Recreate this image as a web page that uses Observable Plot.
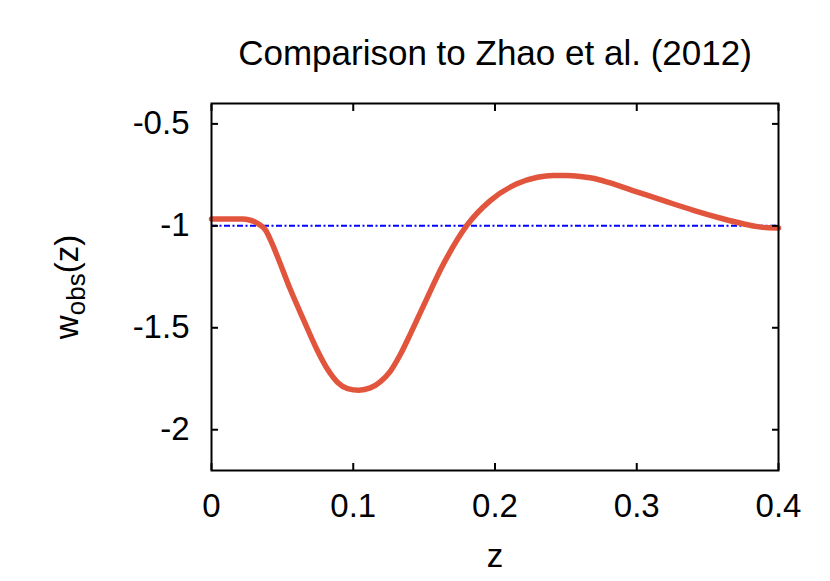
<!DOCTYPE html>
<html>
<head>
<meta charset="utf-8">
<script src="https://cdn.jsdelivr.net/npm/d3@7"></script>
<script src="https://cdn.jsdelivr.net/npm/@observablehq/plot@0.6"></script>
<style>
  html, body { margin: 0; padding: 0; background: white; }
</style>
</head>
<body>
<div id="chart"></div>
<script>
const title = "Comparison to Zhao et al. (2012)";
const xLabel = "z";
const yLabelMain = "w";
const yLabelSub = "obs";
const yLabelTail = "(z)";

const zValues = [0, 0.015, 0.022, 0.026, 0.030, 0.034, 0.038, 0.042, 0.0465, 0.0558, 0.0652, 0.0746, 0.082, 0.089, 0.096, 0.104, 0.112, 0.119, 0.126, 0.1333, 0.141, 0.1497, 0.1638, 0.180, 0.1967, 0.2155, 0.23, 0.2413, 0.25, 0.26, 0.27, 0.28, 0.30, 0.32, 0.34, 0.36, 0.375, 0.385, 0.393, 0.4];
const wValues = [-0.966, -0.966, -0.967, -0.970, -0.979, -0.995, -1.02, -1.075, -1.15, -1.315, -1.465, -1.61, -1.705, -1.768, -1.798, -1.806, -1.795, -1.765, -1.715, -1.63, -1.52, -1.39, -1.185, -0.999, -0.876, -0.794, -0.762, -0.753, -0.753, -0.758, -0.768, -0.787, -0.833, -0.879, -0.924, -0.964, -0.990, -1.004, -1.010, -1.011];
const referenceW = [-1];

const xTicks = [0, 0.1, 0.2, 0.3, 0.4];
const yTicks = [-2, -1.5, -1, -0.5];

const curve = zValues.map((z, i) => ({z, w: wValues[i]}));
const fmt = d => String(d);
const FS = 33;

const svg = Plot.plot({
  width: 830,
  height: 581,
  marginLeft: 211,
  marginRight: 52,
  marginTop: 103,
  marginBottom: 111,
  style: {fontFamily: "'Liberation Sans', Arial, sans-serif", fontSize: FS + "px", background: "white", color: "black"},
  x: {domain: [0, 0.4]},
  y: {domain: [-2.2, -0.4]},
  marks: [
    Plot.ruleY(referenceW, {stroke: "#0000ff", strokeWidth: 2, strokeDasharray: "6,2.5,2,2.5"}),
    Plot.line(curve, {x: "z", y: "w", stroke: "#e2553d", strokeWidth: 5.5, curve: "monotone-x"}),
    Plot.axisX(xTicks, {anchor: "bottom", tickSize: -7, tickPadding: 30, tickFormat: fmt, label: null, fontSize: FS, strokeWidth: 2}),
    Plot.axisX(xTicks, {anchor: "top", tickSize: -7, tickFormat: () => "", label: null, strokeWidth: 2}),
    Plot.axisY(yTicks, {anchor: "left", tickSize: -7, tickPadding: 29, tickFormat: fmt, label: null, fontSize: FS, strokeWidth: 2}),
    Plot.axisY(yTicks, {anchor: "right", tickSize: -7, tickFormat: () => "", label: null, strokeWidth: 2}),
    Plot.frame({stroke: "black", strokeWidth: 2}),
    Plot.text([title], {frameAnchor: "top", dy: -39, lineAnchor: "bottom", fontSize: 35, fill: "black"}),
    Plot.text([xLabel], {frameAnchor: "bottom", dy: 96, lineAnchor: "bottom", fontSize: FS, fill: "black"})
  ]
});

const lab = d3.select(svg).append("text")
  .attr("transform", "translate(78,287) rotate(-90)")
  .attr("text-anchor", "middle")
  .attr("font-size", FS)
  .attr("fill", "black")
  .attr("font-family", "'Liberation Sans', Arial, sans-serif");
lab.append("tspan").text(yLabelMain);
lab.append("tspan").attr("font-size", 26).attr("dy", 7).text(yLabelSub);
lab.append("tspan").attr("dy", -7).text(yLabelTail);

document.getElementById("chart").appendChild(svg);
</script>
</body>
</html>
